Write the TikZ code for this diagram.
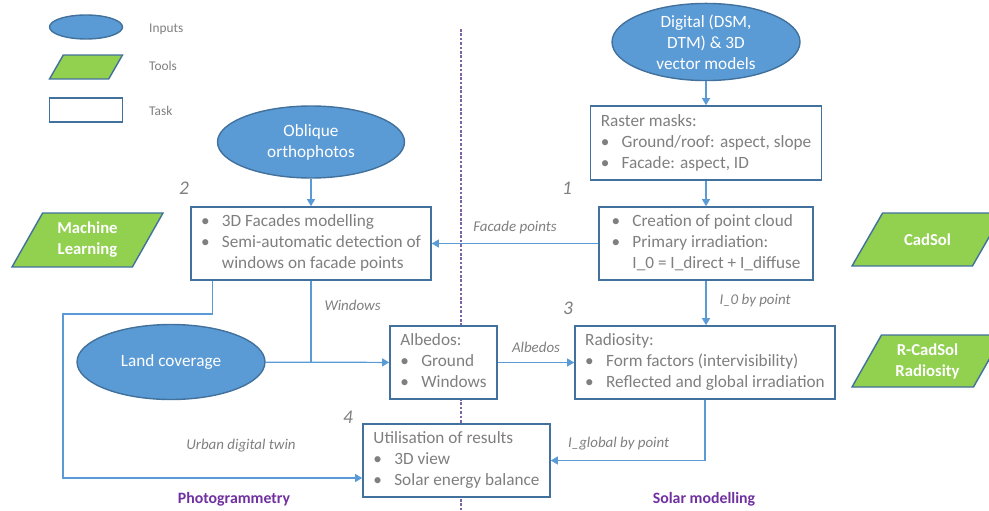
\documentclass[tikz,border=0pt]{standalone}
\usepackage{fontspec}
\setmainfont{Carlito}
\usetikzlibrary{shapes.geometric,arrows.meta}
\definecolor{inblue}{HTML}{5B9BD5}
\definecolor{edge}{HTML}{41719C}
\definecolor{toolgreen}{HTML}{92D050}
\definecolor{txt}{HTML}{7F7F7F}
\definecolor{sepline}{HTML}{8064A2}
\definecolor{head}{HTML}{7030A0}
\tikzset{
  input/.style={ellipse, draw=edge, fill=inblue, line width=0.8pt, text=white, align=center, inner sep=0pt, font=\fontsize{9.8}{11.9}\selectfont},
  tool/.style={trapezium, trapezium left angle=60, trapezium right angle=120, trapezium stretches body=true, draw=edge, fill=toolgreen, line width=0.8pt, text=white, align=center, inner xsep=2pt, font=\fontsize{9.5}{11.9}\selectfont\bfseries},
  task/.style={rectangle, draw=edge, fill=white, line width=0.9pt, text=txt, inner sep=0pt, font=\fontsize{9.8}{11.9}\selectfont},
  link/.style={draw=inblue, line width=0.7pt},
  arr/.style={link, -{Triangle[width=4.5pt,length=4pt]}},
  lbl/.style={text=txt, font=\fontsize{8.5}{10}\selectfont\itshape},
  num/.style={text=txt, font=\fontsize{11}{13}\selectfont\itshape},
  legtext/.style={text=txt, font=\fontsize{7.6}{9}\selectfont, anchor=west},
  coltitle/.style={text=head, font=\fontsize{9}{11}\selectfont\bfseries}
}
\newcommand{\bl}{\textbullet}

\begin{document}
\begin{tikzpicture}[x=0.02cm,y=-0.02cm]
  \useasboundingbox (0,0) rectangle (989,510);
  \draw[sepline, dashed, dash pattern=on 1.5pt off 1pt, line width=0.6pt] (461,29) -- (461,510);

  \node[input, minimum width=1.46cm, minimum height=0.48cm] (kin) at (86,27) {};
  \node[tool, inner ysep=0.85pt, minimum width=1.46cm, minimum height=0.48cm] (ktool) at (86,67) {\strut};
  \node[task, minimum width=1.46cm, minimum height=0.48cm] (ktask) at (86,110) {};
  \node[legtext] at (143,29) {Inputs};
  \node[legtext] at (143,66) {Tools};
  \node[legtext] at (143,111) {Task};

  \node[input, minimum width=3.76cm, minimum height=1.48cm] (dig) at (706,42) {Digital (DSM,\\DTM) \& 3D\\vector models};
  \node[input, minimum width=3.74cm, minimum height=1.44cm] (obl) at (311,142) {Oblique\\orthophotos};
  \node[input, minimum width=3.76cm, minimum height=1.5cm] (land) at (171,362) {Land coverage};

  \node[tool, inner ysep=5pt, minimum width=3.02cm, minimum height=1.08cm] (ml) at (87.5,240) {Machine\\Learning};
  \node[tool, inner ysep=11.7pt, minimum width=3.02cm, minimum height=1.06cm] (cad) at (927.5,239.5) {CadSol};
  \node[tool, inner ysep=4.5pt, minimum width=3.02cm, minimum height=1.04cm] (rcad) at (927.5,361) {R-CadSol\\Radiosity};

  \node[task, minimum width=4.62cm, minimum height=1.48cm] (ras) at (706,143) {\begin{tabular}{@{}l@{\hskip 7pt}l@{}}
    \multicolumn{2}{@{}l@{}}{Raster masks:}\\
    \bl & Ground/roof: aspect, slope\\
    \bl & Facade: aspect, ID
  \end{tabular}};
  \node[task, minimum width=4.28cm, minimum height=1.46cm] (pc) at (706,243.5) {\begin{tabular}{@{}l@{\hskip 7pt}l@{}}
    \bl & Creation of point cloud\\
    \bl & Primary irradiation:\\
        & I\_0 = I\_direct + I\_diffuse
  \end{tabular}};
  \node[task, minimum width=4.8cm, minimum height=1.46cm] (fac) at (311,243.5) {\begin{tabular}{@{}l@{\hskip 7pt}l@{}}
    \bl & 3D Facades modelling\\
    \bl & Semi-automatic detection of\\
        & windows on facade points
  \end{tabular}};
  \node[task, minimum width=2.14cm, minimum height=1.46cm] (alb) at (443.5,362.5) {\begin{tabular}{@{}l@{\hskip 7pt}l@{}}
    \multicolumn{2}{@{}l@{}}{Albedos:}\\
    \bl & Ground\\
    \bl & Windows
  \end{tabular}};
  \node[task, minimum width=5.2cm, minimum height=1.46cm] (rad) at (705,362.5) {\begin{tabular}{@{}l@{\hskip 7pt}l@{}}
    \multicolumn{2}{@{}l@{}}{Radiosity:}\\
    \bl & Form factors (intervisibility)\\
    \bl & Reflected and global irradiation
  \end{tabular}};
  \node[task, minimum width=3.74cm, minimum height=1.46cm] (use) at (456.5,460.5) {\begin{tabular}{@{}l@{\hskip 7pt}l@{}}
    \multicolumn{2}{@{}l@{}}{Utilisation of results}\\
    \bl & 3D view\\
    \bl & Solar energy balance
  \end{tabular}};

  \node[num] at (184,188) {2};
  \node[num] at (567,188) {1};
  \node[num] at (568,308) {3};
  \node[num] at (348,417) {4};

  \coordinate (tw) at (63,314);
  \draw[arr] (dig) -- (ras);
  \draw[arr] (ras) -- (pc);
  \draw[arr] (obl) -- (fac);
  \draw[arr] (pc) -- node[lbl, above=2pt] {Facade points} (fac);
  \draw[arr] (pc.south) -- node[lbl, right=4pt, pos=0.45] {I\_0 by point} (pc.south |- rad.north);
  \draw[link] (fac.south) -- node[lbl, right=4pt, pos=0.3] {Windows} (fac.south |- alb.west);
  \draw[arr] (land) -- (alb);
  \draw[arr] (alb) -- node[lbl, above=2pt] {Albedos} (rad);
  \draw[arr] (rad.south) |- node[lbl, above=2pt, pos=0.78] {I\_global by point} (use.east);
  \draw[arr] ([xshift=0.44cm]fac.south west) |- (tw) |- ([yshift=-0.35cm]use.west);
  \node[lbl] at (241,446) {Urban digital twin};

  \node[coltitle] at (234,499) {Photogrammetry};
  \node[coltitle] at (704,499) {Solar modelling};
\end{tikzpicture}
\end{document}
